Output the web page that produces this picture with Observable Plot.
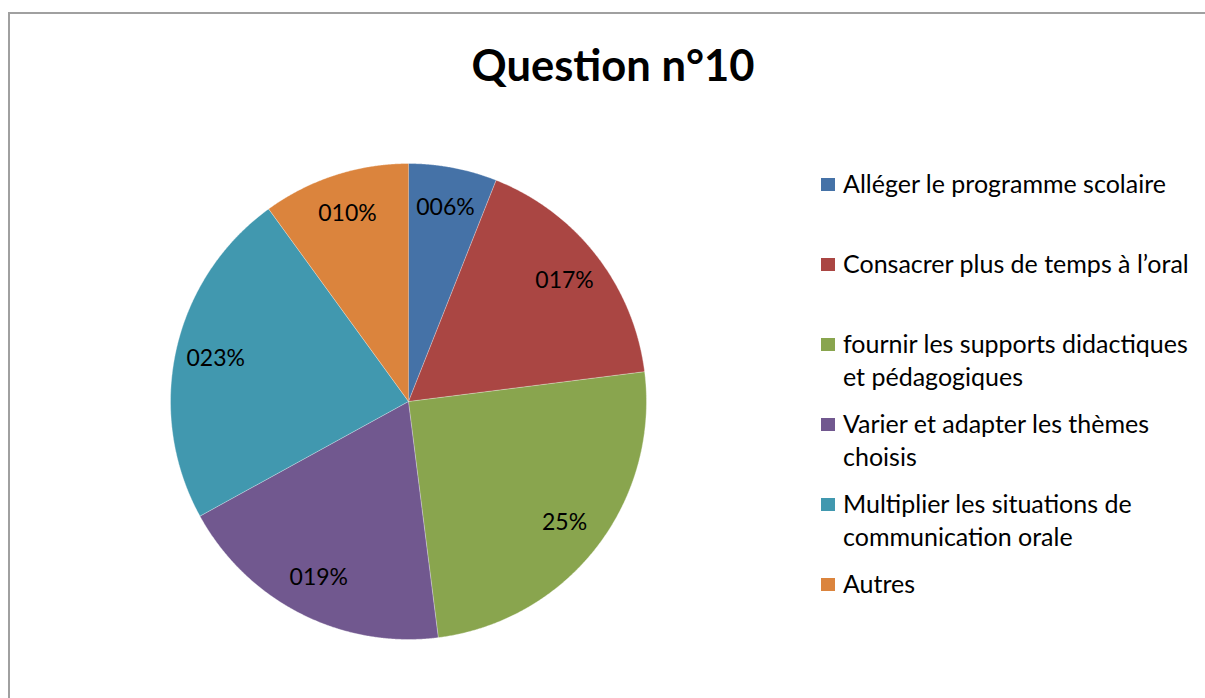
<!DOCTYPE html>
<html><head><meta charset="utf-8">
<script src="https://cdn.jsdelivr.net/npm/d3@7"></script>
<script src="https://cdn.jsdelivr.net/npm/@observablehq/plot@0.6"></script>
<style>
body{margin:0;background:#fff;font-family:Lato, "Open Sans", sans-serif;color:#000;overflow:hidden;}
#frame{position:absolute;left:8px;top:12px;width:1300px;height:800px;border:2px solid #a0a0a0;box-sizing:border-box;}
#title{position:absolute;left:0;width:1226px;top:43px;text-align:center;font-weight:bold;font-size:43.5px;line-height:1;}
#pie{position:absolute;left:168px;top:161px;}
#legend{position:absolute;left:821px;top:167px;}
.item{position:relative;height:80px;}
.sw{position:absolute;left:0;top:11px;width:14px;height:13px;}
.tx{position:absolute;left:22px;top:0;font-size:25px;line-height:33px;width:358px;}
</style></head>
<body>
<div id="frame"></div>
<div id="title">Question n°10</div>
<div id="pie"></div>
<div id="legend"></div>
<script>
const categories = [
  "Alléger le programme scolaire",
  "Consacrer plus de temps à l’oral",
  "fournir les supports didactiques et pédagogiques",
  "Varier et adapter les thèmes choisis",
  "Multiplier les situations de communication orale",
  "Autres"
];
const values = [6, 17, 25, 19, 23, 10];
const labels = ["006%", "017%", "25%", "019%", "023%", "010%"];
const colors = ["#4572A7", "#AA4643", "#89A54E", "#71588F", "#4198AF", "#DB843D"];

const arcs = d3.pie().sort(null).value(d => d)(values);
const pts = [];
arcs.forEach((a, i) => {
  const c = categories[i];
  pts.push({c, x: 0, y: 0});
  const n = Math.max(2, Math.ceil((a.endAngle - a.startAngle) / 0.005));
  for (let k = 0; k <= n; k++) {
    const t = a.startAngle + (a.endAngle - a.startAngle) * k / n;
    pts.push({c, x: Math.sin(t), y: Math.cos(t)});
  }
});
const labelData = arcs.map((a, i) => {
  const m = (a.startAngle + a.endAngle) / 2;
  return {t: labels[i], x: 0.83 * Math.sin(m), y: 0.83 * Math.cos(m)};
});

const chart = Plot.plot({
  width: 480, height: 480, margin: 2,
  x: {domain: [-1, 1], axis: null},
  y: {domain: [-1, 1], axis: null},
  color: {domain: categories, range: colors},
  style: {fontFamily: "Lato, sans-serif", background: "transparent"},
  marks: [
    Plot.line(pts, {x: "x", y: "y", z: "c", fill: "c", stroke: "#ffffff", strokeOpacity: 0.6, strokeWidth: 0.6, curve: "linear"}),
    Plot.text(labelData, {x: "x", y: "y", text: "t", fontSize: 23, fill: "#000"})
  ]
});
document.getElementById("pie").appendChild(chart);

const legend = document.getElementById("legend");
categories.forEach((c, i) => {
  const it = document.createElement("div"); it.className = "item";
  const sw = document.createElement("div"); sw.className = "sw"; sw.style.background = colors[i];
  const tx = document.createElement("div"); tx.className = "tx"; tx.textContent = c;
  it.appendChild(sw); it.appendChild(tx); legend.appendChild(it);
});
</script>
</body></html>
